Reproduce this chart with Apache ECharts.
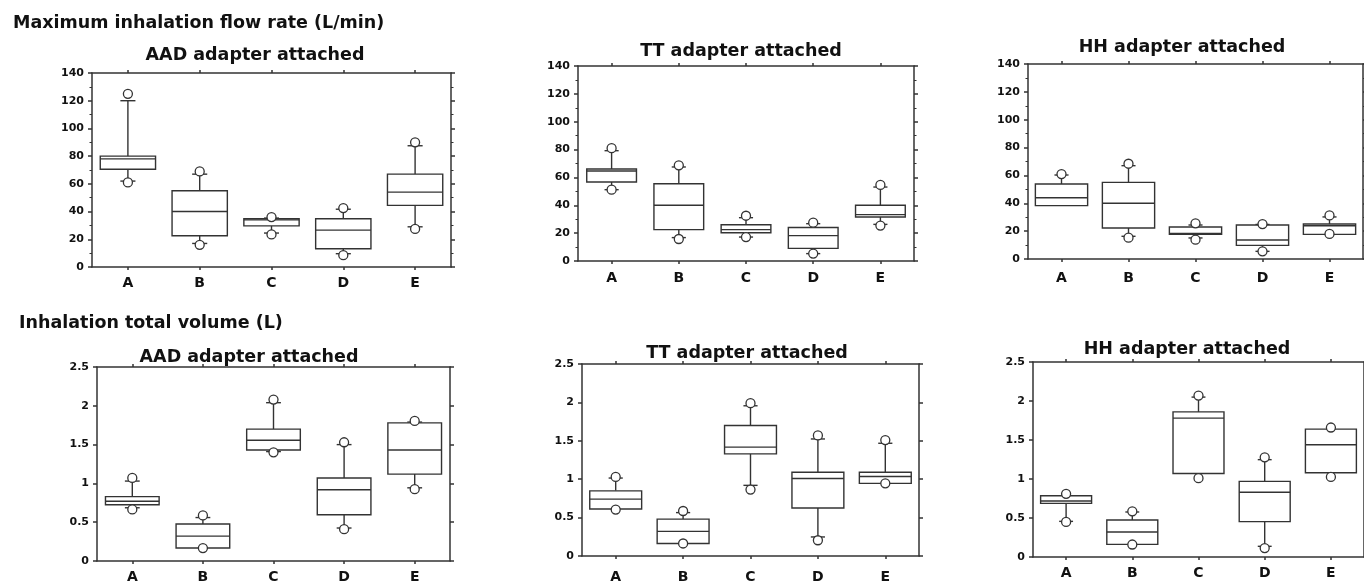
<!DOCTYPE html>
<html>
<head>
<meta charset="utf-8">
<script src="https://cdn.jsdelivr.net/npm/echarts@6/dist/echarts.min.js"></script>
<style>
html,body{margin:0;padding:0;background:#fff;}
#chart{width:1364px;height:584px;}
</style>
</head>
<body>
<div id="chart"></div>
<script>
// ---- Data ----
const categories = ['A', 'B', 'C', 'D', 'E'];

const flowTicks = { min: 0, max: 140, interval: 20 };
const volumeTicks = { min: 0, max: 2.5, interval: 0.5 };

// box stats per category: [whisker low, Q1, median, Q3, whisker high]
const flowAAD = [
  [62, 70.5, 78, 80, 120],
  [17, 22.5, 40, 55, 67],
  [24.5, 29.7, 34, 34.8, 35.3],
  [9.6, 13.2, 26.6, 34.8, 41.7],
  [29, 44.5, 54, 67, 87.5]
];
const flowAADOut = [[0, 125], [0, 61], [1, 69], [1, 16], [2, 36], [2, 23.5], [3, 42.5], [3, 8.5], [4, 90], [4, 27.5]];

const flowTT = [
  [51.2, 56.7, 64.6, 66, 79.2],
  [16.8, 22.5, 40, 55.5, 67.5],
  [17.2, 20.3, 22.5, 26, 31.1],
  [5.3, 9.1, 18.2, 24, 26.8],
  [26.3, 31.6, 33.3, 40, 53.1]
];
const flowTTOut = [[0, 81], [0, 51.2], [1, 68.7], [1, 15.8], [2, 32.5], [2, 17.2], [3, 27.5], [3, 5.3], [4, 54.6], [4, 25.4]];

const flowHH = [
  [38.3, 38.3, 44, 53.8, 60.3],
  [16.3, 22.3, 40, 55, 67],
  [15.1, 17.7, 18.4, 23, 24.4],
  [5.5, 9.8, 13.6, 24.4, 24.8],
  [17.7, 17.7, 23.9, 25.1, 30.2]
];
const flowHHOut = [[0, 61], [1, 68.4], [1, 15.3], [2, 25.6], [2, 13.9], [3, 25.1], [3, 5.5], [4, 31.3], [4, 18]];

const volAAD = [
  [0.686, 0.725, 0.77, 0.83, 1.03],
  [0.167, 0.167, 0.32, 0.476, 0.56],
  [1.41, 1.43, 1.557, 1.70, 2.04],
  [0.425, 0.596, 0.918, 1.07, 1.50],
  [0.943, 1.12, 1.43, 1.78, 1.79]
];
const volAADOut = [[0, 1.07], [0, 0.665], [1, 0.587], [1, 0.167], [2, 2.08], [2, 1.40], [3, 1.53], [3, 0.41], [4, 1.805], [4, 0.926]];

const volTT = [
  [0.612, 0.612, 0.74, 0.848, 1.015],
  [0.163, 0.163, 0.32, 0.48, 0.565],
  [0.92, 1.33, 1.417, 1.70, 1.956],
  [0.248, 0.625, 1.01, 1.09, 1.524],
  [0.946, 0.946, 1.036, 1.09, 1.468]
];
const volTTOut = [[0, 1.03], [0, 0.604], [1, 0.586], [1, 0.163], [2, 1.99], [2, 0.865], [3, 1.57], [3, 0.205], [4, 1.51], [4, 0.946]];

const volHH = [
  [0.457, 0.688, 0.718, 0.786, 0.786],
  [0.162, 0.162, 0.32, 0.474, 0.577],
  [1.07, 1.07, 1.78, 1.86, 2.05],
  [0.137, 0.453, 0.83, 0.97, 1.248],
  [1.08, 1.08, 1.44, 1.64, 1.64]
];
const volHHOut = [[0, 0.81], [0, 0.45], [1, 0.585], [1, 0.16], [2, 2.07], [2, 1.01], [3, 1.278], [3, 0.115], [4, 1.66], [4, 1.026]];

const sectionTitles = ['Maximum inhalation flow rate (L/min)', 'Inhalation total volume (L)'];
const panelTitles = ['AAD adapter attached', 'TT adapter attached', 'HH adapter attached',
                     'AAD adapter attached', 'TT adapter attached', 'HH adapter attached'];

// ---- Layout ----
const FONT = 'DejaVu Sans';
const INK = '#333';
const panels = [
  { grid: { left: 92, top: 73, width: 359, height: 194 }, stats: flowAAD, out: flowAADOut, ticks: flowTicks, minor: true, ratio: 0.77, lm: 9, title: [255, 55] },
  { grid: { left: 578, top: 66, width: 336, height: 195 }, stats: flowTT, out: flowTTOut, ticks: flowTicks, minor: true, ratio: 0.74, lm: 10, title: [741, 51] },
  { grid: { left: 1028, top: 64, width: 335, height: 195 }, stats: flowHH, out: flowHHOut, ticks: flowTicks, minor: true, ratio: 0.78, lm: 12, title: [1182, 47] },
  { grid: { left: 97, top: 367, width: 353, height: 194 }, stats: volAAD, out: volAADOut, ticks: volumeTicks, minor: false, ratio: 0.76, lm: 9, title: [249, 357] },
  { grid: { left: 582, top: 364, width: 337, height: 195 }, stats: volTT, out: volTTOut, ticks: volumeTicks, minor: false, ratio: 0.77, lm: 14, title: [747, 353] },
  { grid: { left: 1033, top: 362, width: 336, height: 195 }, stats: volHH, out: volHHOut, ticks: volumeTicks, minor: false, ratio: 0.77, lm: 9, title: [1187, 349] }
];

function makeRender(ratio) {
  return function (params, api) {
    const idx = api.value(0);
    const mn = api.value(1), q1 = api.value(2), md = api.value(3), q3 = api.value(4), mx = api.value(5);
    const band = api.size([1, 0])[0];
    const hw = band * ratio / 2;
    const cw = band * 0.105;
    const pMin = api.coord([idx, mn]);
    const pQ1 = api.coord([idx, q1]);
    const pMd = api.coord([idx, md]);
    const pQ3 = api.coord([idx, q3]);
    const pMax = api.coord([idx, mx]);
    const x = pMd[0];
    const ls = { stroke: INK, lineWidth: 1.4, fill: null };
    const children = [];
    if (mx > q3) {
      children.push({ type: 'line', shape: { x1: x, y1: pQ3[1], x2: x, y2: pMax[1] }, style: ls });
      children.push({ type: 'line', shape: { x1: x - cw, y1: pMax[1], x2: x + cw, y2: pMax[1] }, style: ls });
    }
    if (mn < q1) {
      children.push({ type: 'line', shape: { x1: x, y1: pQ1[1], x2: x, y2: pMin[1] }, style: ls });
      children.push({ type: 'line', shape: { x1: x - cw, y1: pMin[1], x2: x + cw, y2: pMin[1] }, style: ls });
    }
    children.push({ type: 'rect', shape: { x: x - hw, y: pQ3[1], width: 2 * hw, height: pQ1[1] - pQ3[1] }, style: { stroke: INK, lineWidth: 1.4, fill: '#fff' } });
    children.push({ type: 'line', shape: { x1: x - hw, y1: pMd[1], x2: x + hw, y2: pMd[1] }, style: ls });
    return { type: 'group', children: children };
  };
}

const option = {
  animation: false,
  backgroundColor: '#fff',
  grid: [], xAxis: [], yAxis: [], series: [], graphic: []
};

const lineStyle = { color: INK, width: 1.5 };

panels.forEach(function (p, i) {
  option.grid.push(Object.assign({ containLabel: false }, p.grid));
  // bottom x axis
  option.xAxis.push({
    type: 'category', gridIndex: i, data: categories, position: 'bottom', boundaryGap: true,
    axisLine: { show: true, lineStyle: lineStyle },
    axisTick: { show: true, alignWithLabel: true, length: 3, lineStyle: lineStyle },
    axisLabel: { show: true, margin: p.lm, fontFamily: FONT, fontWeight: 'bold', fontSize: 14, color: '#111' },
    splitLine: { show: false }
  });
  // top x axis (frame)
  option.xAxis.push({
    type: 'category', gridIndex: i, data: categories, position: 'top', boundaryGap: true,
    axisLine: { show: true, onZero: false, lineStyle: lineStyle },
    axisTick: { show: true, alignWithLabel: true, length: 3, lineStyle: lineStyle },
    axisLabel: { show: false }, splitLine: { show: false }
  });
  const yBase = {
    type: 'value', gridIndex: i, min: p.ticks.min, max: p.ticks.max, interval: p.ticks.interval,
    axisLine: { show: true, onZero: false, lineStyle: lineStyle },
    axisTick: { show: true, length: 4, lineStyle: lineStyle },
    minorTick: { show: p.minor, splitNumber: 2, length: 2.5, lineStyle: { color: INK, width: 1 } },
    splitLine: { show: false }, minorSplitLine: { show: false }
  };
  option.yAxis.push(Object.assign({}, yBase, {
    position: 'left',
    axisLabel: { show: true, margin: 8, fontFamily: FONT, fontWeight: 'bold', fontSize: 11, color: '#111' }
  }));
  option.yAxis.push(Object.assign({}, yBase, {
    position: 'right', axisLabel: { show: false }
  }));

  option.series.push({
    type: 'custom', xAxisIndex: 2 * i, yAxisIndex: 2 * i,
    renderItem: makeRender(p.ratio),
    encode: { x: 0, y: [1, 2, 3, 4, 5] },
    data: p.stats.map(function (s, k) { return [k].concat(s); }),
    z: 2
  });
  option.series.push({
    type: 'scatter', xAxisIndex: 2 * i, yAxisIndex: 2 * i,
    symbol: 'circle', symbolSize: 9,
    itemStyle: { color: '#fff', borderColor: INK, borderWidth: 1.3, opacity: 1 },
    data: p.out, z: 3
  });

  option.graphic.push({
    type: 'text', x: p.title[0], y: p.title[1],
    style: { text: panelTitles[i], align: 'center', verticalAlign: 'middle', font: 'bold 17.5px "' + FONT + '"', fill: '#111' }
  });
});

option.graphic.push({
  type: 'text', x: 13, y: 23,
  style: { text: sectionTitles[0], align: 'left', verticalAlign: 'middle', font: 'bold 17.5px "' + FONT + '"', fill: '#111' }
});
option.graphic.push({
  type: 'text', x: 19, y: 323,
  style: { text: sectionTitles[1], align: 'left', verticalAlign: 'middle', font: 'bold 17.5px "' + FONT + '"', fill: '#111' }
});

const chart = echarts.init(document.getElementById('chart'), null, { renderer: 'canvas' });
chart.setOption(option);
</script>
</body>
</html>
